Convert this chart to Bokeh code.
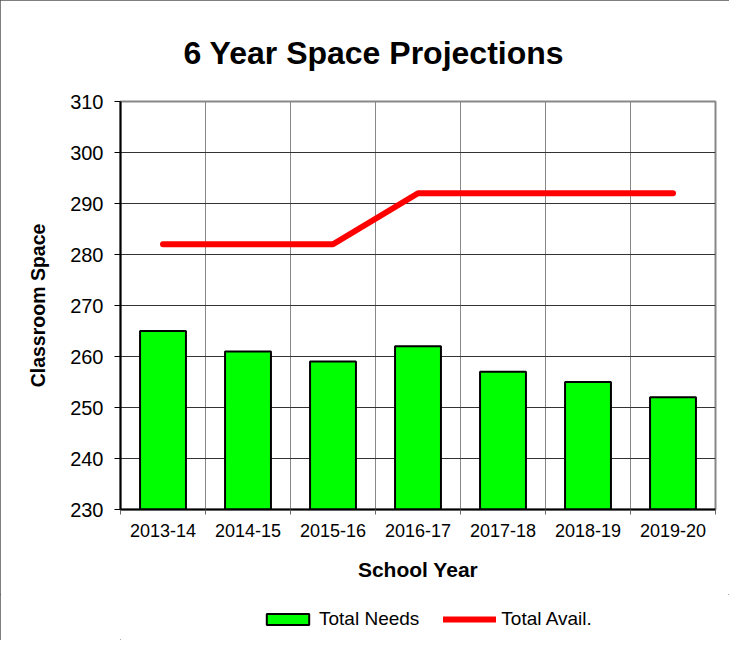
from bokeh.plotting import figure
from bokeh.models import FixedTicker, Range1d, Legend, LegendItem, ColumnDataSource
from bokeh.layouts import column
from bokeh.embed import file_html
from bokeh.resources import INLINE

years = ["2013-14", "2014-15", "2015-16", "2016-17", "2017-18", "2018-19", "2019-20"]
total_needs = [265, 261, 259, 262, 257, 255, 252]
total_avail = [282, 282, 282, 292, 292, 292, 292]
y_ticks = [230, 240, 250, 260, 270, 280, 290, 300, 310]
title_text = "6 Year Space Projections"
series_names = ["Total Needs", "Total Avail."]

FONT = "Liberation Sans"
xs = [i + 0.5 for i in range(len(years))]
src = ColumnDataSource(dict(x=xs, needs=total_needs, avail=total_avail, year=years))

BAR_STYLE = dict(fill_color="#00FF00", line_color="black", line_width=2)
LINE_STYLE = dict(line_color="#FF0000", line_width=6, line_cap="round", line_join="round")

p = figure(frame_width=595, frame_height=408, output_backend="svg", toolbar_location=None,
           x_range=Range1d(0, len(years)), y_range=Range1d(230, 310),
           min_border_left=120, min_border_right=14, min_border_top=101, min_border_bottom=85,
           title=title_text)

p.title.text_font = FONT
p.title.text_font_size = "32px"
p.title.text_font_style = "bold"
p.title.text_color = "black"
p.title.align = "left"
p.title.offset = 63
p.title.standoff = 62

p.outline_line_color = "#888888"
p.outline_line_width = 2

p.vbar(x="x", top="needs", bottom=230, width=0.54, source=src, **BAR_STYLE)
p.line(x="x", y="avail", source=src, **LINE_STYLE)

# y axis
p.yaxis.ticker = FixedTicker(ticks=y_ticks)
p.yaxis.axis_label = "Classroom Space"
p.yaxis.axis_label_text_font = FONT
p.yaxis.axis_label_text_font_size = "19.5px"
p.yaxis.axis_label_text_font_style = "bold"
p.yaxis.axis_label_text_color = "black"
p.yaxis.axis_label_standoff = 18
p.yaxis.major_label_text_font = FONT
p.yaxis.major_label_text_font_size = "20px"
p.yaxis.major_label_text_color = "black"
p.yaxis.major_label_standoff = 11
p.yaxis.major_tick_out = 6
p.yaxis.major_tick_in = 0
p.yaxis.major_tick_line_color = "black"
p.yaxis.minor_tick_line_color = None
p.yaxis.axis_line_width = 2
p.yaxis.axis_line_color = "black"

# x axis
p.xaxis.ticker = FixedTicker(ticks=xs, minor_ticks=list(range(len(years) + 1)))
p.xaxis.major_label_overrides = {x: y for x, y in zip(xs, years)}
p.xaxis.major_tick_line_color = None
p.xaxis.major_tick_out = 0
p.xaxis.major_tick_in = 0
p.xaxis.minor_tick_out = 5
p.xaxis.minor_tick_in = 0
p.xaxis.minor_tick_line_color = "#666666"
p.xaxis.major_label_standoff = 9
p.xaxis.major_label_text_font = FONT
p.xaxis.major_label_text_font_size = "18px"
p.xaxis.major_label_text_color = "black"
p.xaxis.axis_label = "School Year"
p.xaxis.axis_label_text_font = FONT
p.xaxis.axis_label_text_font_size = "21px"
p.xaxis.axis_label_text_font_style = "bold"
p.xaxis.axis_label_text_color = "black"
p.xaxis.axis_label_standoff = 18
p.xaxis.axis_line_width = 2
p.xaxis.axis_line_color = "black"

p.xgrid.ticker = FixedTicker(ticks=list(range(1, len(years))))
p.xgrid.grid_line_color = "#888888"
p.xgrid.grid_line_width = 1
p.xgrid.grid_line_alpha = 1
p.ygrid.ticker = FixedTicker(ticks=y_ticks[1:-1])
p.ygrid.grid_line_color = "#333333"
p.ygrid.grid_line_width = 1
p.ygrid.grid_line_alpha = 1

# legend strip below the chart (key renderers hold one point outside the visible range)
lg = figure(frame_width=729, frame_height=46, output_backend="svg", toolbar_location=None,
            x_axis_type=None, y_axis_type=None, min_border=0,
            x_range=Range1d(0, 1), y_range=Range1d(0, 1))
lg.outline_line_color = None
lg.xgrid.visible = False
lg.ygrid.visible = False
key_bar = lg.vbar(x=[-5], top=[-4], bottom=-5, width=0.1, **BAR_STYLE)
key_line = lg.line(x=[-5, -4], y=[-5, -5], **LINE_STYLE)
legend = Legend(items=[LegendItem(label=series_names[0], renderers=[key_bar], index=0),
                       LegendItem(label=series_names[1], renderers=[key_line], index=0)],
                orientation="horizontal", location=(261, 10),
                label_text_font=FONT, label_text_font_size="19px", label_text_color="black",
                glyph_width=53, glyph_height=14, spacing=24, label_standoff=5,
                padding=0, margin=0,
                border_line_color=None, background_fill_alpha=0)
lg.add_layout(legend, "center")

layout = column(p, lg, spacing=0)
layout.styles = {"outline": "1px solid #555555", "outline-offset": "-1px"}

open("out.html", "w").write(file_html(layout, INLINE))
